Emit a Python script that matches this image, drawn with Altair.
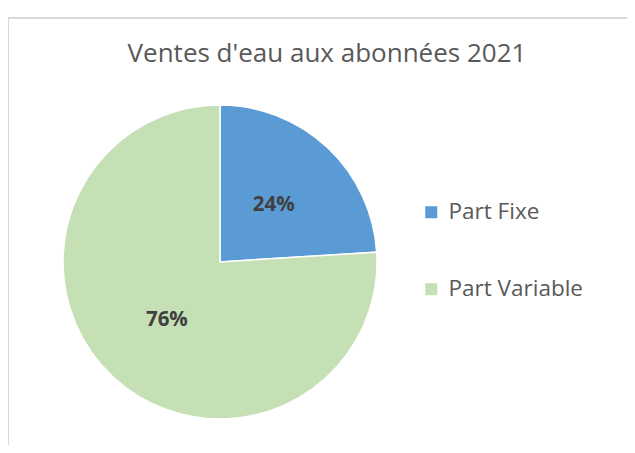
import altair as alt
import pandas as pd

categories = ["Part Fixe", "Part Variable"]
values = [24, 76]
labels = ["24%", "76%"]
colors = ["#5B9BD5", "#C5E0B4"]
title_text = "Ventes d'eau aux abonnées 2021"

df = pd.DataFrame({"cat": categories, "val": values, "lab": labels, "ord": [0, 1]})

W, H = 619, 437
CX, CY, R = 212, 254, 157
FONT = "Open Sans"

color = alt.Color("cat:N", scale=alt.Scale(domain=categories, range=colors),
                  legend=alt.Legend(title=None, orient="none", legendX=412, legendY=193,
                                    symbolType="square", symbolSize=144, symbolStrokeWidth=0,
                                    labelFontSize=22.5, labelFont=FONT, labelColor="#595959",
                                    rowPadding=54, labelOffset=6))

base = alt.Chart(df)

pie = base.mark_arc(radius=R, stroke="white", strokeWidth=1.5).encode(
    theta=alt.Theta("val:Q", stack=True),
    color=color,
    order=alt.Order("ord:Q"),
    x=alt.value(CX), y=alt.value(CY),
)

lab0 = base.mark_text(radius=74, dx=3, dy=-3, font=FONT, fontSize=20.5, fontWeight="bold", color="#404040").encode(
    theta=alt.Theta("val:Q", stack=True), order=alt.Order("ord:Q"),
    text=alt.condition(alt.datum.ord == 0, "lab:N", alt.value("")),
    x=alt.value(CX), y=alt.value(CY),
)
lab1 = base.mark_text(radius=82, dx=3, dy=-2, font=FONT, fontSize=20.5, fontWeight="bold", color="#404040").encode(
    theta=alt.Theta("val:Q", stack=True), order=alt.Order("ord:Q"),
    text=alt.condition(alt.datum.ord == 1, "lab:N", alt.value("")),
    x=alt.value(CX), y=alt.value(CY),
)

title = alt.Chart(pd.DataFrame({"t": [title_text]})).mark_text(
    font=FONT, fontSize=26, color="#595959"
).encode(text="t:N", x=alt.value(319), y=alt.value(46))

top_rule = alt.Chart(pd.DataFrame({"a": [0]})).mark_rule(color="#d9d9d9", strokeWidth=2).encode(
    x=alt.value(-1), x2=alt.value(W), y=alt.value(10))
left_rule = alt.Chart(pd.DataFrame({"a": [0]})).mark_rule(color="#d9d9d9", strokeWidth=2).encode(
    x=alt.value(0), y=alt.value(10), y2=alt.value(H))

chart = alt.layer(top_rule, left_rule, title, pie, lab0, lab1).properties(
    width=W, height=H, autosize=alt.AutoSizeParams(type="none"), padding=0
).configure_view(stroke=None)

chart.save("out.html", embed_options={"renderer": "svg", "actions": False})
